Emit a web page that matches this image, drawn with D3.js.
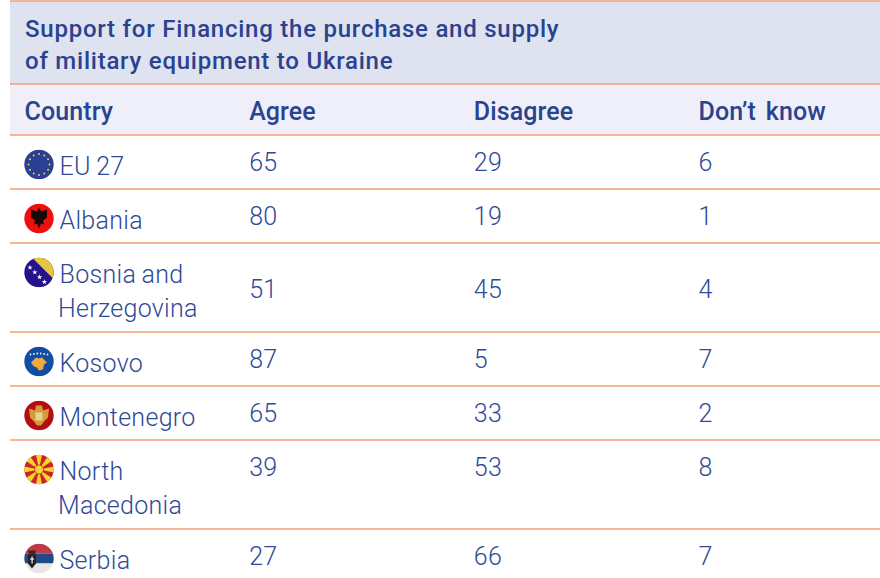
<!DOCTYPE html>
<html>
<head>
<meta charset="utf-8">
<script src="https://cdn.jsdelivr.net/npm/d3@7"></script>
<style>
body { margin: 0; background: #fff; overflow: hidden; }
text { font-family: "Roboto", sans-serif; fill: #2f4a96; }
.head { font-weight: 500; fill: #2a4390; }
.cell { font-weight: 300; letter-spacing: .3px; word-spacing: -1px; }
</style>
</head>
<body>
<div id="chart"></div>
<script>
var titleLines = ["Support for Financing the purchase and supply", "of military equipment to Ukraine"];
var columns = ["Country", "Agree", "Disagree", "Don\u2019t know"];
var countries = [["EU 27"], ["Albania"], ["Bosnia and", "Herzegovina"], ["Kosovo"], ["Montenegro"], ["North", "Macedonia"], ["Serbia"]];
var flags = ["eu", "al", "ba", "xk", "me", "mk", "rs"];
var agree = [65, 80, 51, 87, 65, 39, 27];
var disagree = [29, 19, 45, 5, 33, 53, 66];
var dontKnow = [6, 1, 4, 7, 2, 8, 7];

var width = 880, height = 578;
var line = "#f49e78";
var svg = d3.select("#chart").append("svg").attr("width", width).attr("height", height);

var x = d3.scalePoint().domain(columns).range([24.5, 698.5]);
var titleBottom = 84, headBottom = 135, oneLine = 54, twoLine = 89;

// row tops come from how many lines each country name takes
var rowTop = [], rowY = headBottom;
countries.forEach(function (c) {
    rowTop.push(rowY);
    rowY += c.length > 1 ? twoLine : oneLine;
});

svg.append("rect").attr("x", 10).attr("y", 1).attr("width", width - 10).attr("height", titleBottom - 1).attr("fill", "#dfe2ef");
svg.append("rect").attr("x", 10).attr("y", titleBottom).attr("width", width - 10).attr("height", headBottom - titleBottom).attr("fill", "#eeeff8");

svg.selectAll(".rule")
    .data([1, titleBottom].concat(rowTop))
    .enter().append("line")
    .attr("class", "rule")
    .attr("x1", 10).attr("x2", width)
    .attr("y1", function (d) { return d; }).attr("y2", function (d) { return d; })
    .attr("stroke", line).attr("stroke-width", 1.3);

svg.selectAll(".title")
    .data(titleLines)
    .enter().append("text")
    .attr("class", "head title")
    .attr("x", 25)
    .attr("y", function (d, i) { return 37 + i * 32; })
    .attr("font-size", 24)
    .attr("letter-spacing", .76)
    .text(function (d) { return d; });

svg.selectAll(".colhead")
    .data(columns)
    .enter().append("text")
    .attr("class", "head colhead")
    .attr("x", function (d) { return x(d); })
    .attr("y", 120)
    .attr("font-size", 25)
    .attr("letter-spacing", .1)
    .attr("word-spacing", 3.5)
    .text(function (d) { return d; });

var defs = svg.append("defs");
defs.append("clipPath").attr("id", "disc").append("circle").attr("r", 14.7);

function star(g, cx, cy, r, fill) {
    g.append("path").attr("d", d3.symbol(d3.symbolStar, r * r * 3)()).attr("transform", "translate(" + cx + "," + cy + ")").attr("fill", fill);
}
function box(g, xx, yy, w, h, fill) {
    g.append("rect").attr("x", xx).attr("y", yy).attr("width", w).attr("height", h).attr("fill", fill);
}

var drawFlag = {
    eu: function (g) {
        box(g, -15, -15, 30, 30, "#2b3f94");
        d3.range(12).forEach(function (i) {
            var a = i * Math.PI / 6;
            g.append("circle").attr("cx", 10.5 * Math.cos(a)).attr("cy", 10.5 * Math.sin(a)).attr("r", 1).attr("fill", "#e8d93a");
        });
    },
    al: function (g) {
        box(g, -15, -15, 30, 30, "#ee0f0f");
        g.append("path").attr("d", "M-8,-9 L-2,-7 L-1,-10 L1,-10 L2,-7 L8,-9 L8,-1 L4,2 L5,6 L2,5 L0,10 L-2,5 L-5,6 L-4,2 L-8,-1 Z").attr("fill", "#180808");
    },
    ba: function (g) {
        box(g, -15, -15, 30, 30, "#24128a");
        g.append("path").attr("d", "M-7,-15 L15,-15 L15,7 Z").attr("fill", "#e6c53f");
        d3.range(5).forEach(function (i) {
            star(g, -9 + i * 4.8, -5 + i * 4.8, 1.7, "#fff");
        });
    },
    xk: function (g) {
        box(g, -15, -15, 30, 30, "#0f4ea3");
        d3.range(6).forEach(function (i) {
            g.append("circle").attr("cx", -8.5 + i * 3.4).attr("cy", -7 - Math.min(i, 5 - i) * .5).attr("r", .9).attr("fill", "#e8eef8");
        });
        g.append("path").attr("d", "M-8,1 L-3,-4 L0,-3 L3,-4 L8,1 L5,3 L4,8 L0,9 L-2,6 L-5,5 Z").attr("fill", "#f2a93b");
    },
    me: function (g) {
        box(g, -15, -15, 30, 30, "#b60d10");
        g.append("path").attr("d", "M-10,-7 L-4,-5 L-3,-10 L3,-10 L4,-5 L10,-7 L9,2 L5,6 L2,10 L-2,10 L-5,6 L-9,2 Z").attr("fill", "#d59a3c");
        box(g, -3.5, -3, 7, 8, "#e6d58a");
    },
    mk: function (g) {
        box(g, -15, -15, 30, 30, "#d2202a");
        d3.range(8).forEach(function (i) {
            var a = i * Math.PI / 4, w = .2;
            g.append("path")
                .attr("d", "M0,0 L" + 16 * Math.cos(a - w) + "," + 16 * Math.sin(a - w) + " L" + 16 * Math.cos(a + w) + "," + 16 * Math.sin(a + w) + " Z")
                .attr("fill", "#f4d62c");
        });
        g.append("circle").attr("r", 4.5).attr("fill", "#f4d62c").attr("stroke", "#d2202a").attr("stroke-width", .8);
    },
    rs: function (g) {
        box(g, -15, -15, 30, 10, "#bd3b45");
        box(g, -15, -5, 30, 10, "#1f4a85");
        box(g, -15, 5, 30, 10, "#e6e6e6");
        g.append("path").attr("d", "M-11,-4 L-3,-4 L-3,5 L-7,10 L-11,5 Z").attr("fill", "#222");
        g.append("path").attr("d", "M-11,-8 L-3,-8 L-4,-4 L-10,-4 Z").attr("fill", "#4a2226");
        box(g, -7.5, -2, 1.2, 7, "#eee");
        box(g, -9, 0, 4, 1.2, "#eee");
    }
};

var row = svg.selectAll(".row")
    .data(countries)
    .enter().append("g")
    .attr("class", "row")
    .attr("transform", function (d, i) { return "translate(0," + rowTop[i] + ")"; });

row.append("g")
    .attr("transform", "translate(39,29.5)")
    .attr("clip-path", "url(#disc)")
    .each(function (d, i) { drawFlag[flags[i]](d3.select(this)); });

row.selectAll(".name")
    .data(function (d) { return d; })
    .enter().append("text")
    .attr("class", "cell name")
    .attr("x", function (d, i) { return i === 0 ? 59.5 : 58; })
    .attr("y", function (d, i) { return 39.5 + i * 34.5; })
    .attr("font-size", 25)
    .text(function (d) { return d; });

// Bosnia is centred in its tall row, North Macedonia stays on the first line
function valueY(i) {
    if (countries[i][0] === "Bosnia and") return 54.5;
    return 35.5;
}

[agree, disagree, dontKnow].forEach(function (vals, k) {
    row.append("text")
        .attr("class", "cell")
        .attr("x", x(columns[k + 1]))
        .attr("y", function (d, i) { return valueY(i); })
        .attr("font-size", 25)
        .text(function (d, i) { return vals[i]; });
});
</script>
</body>
</html>
